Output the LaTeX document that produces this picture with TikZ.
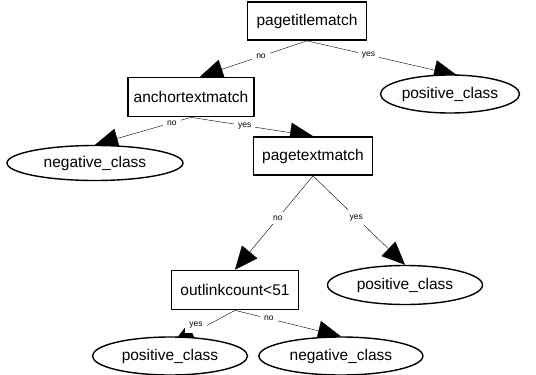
\documentclass[tikz,border=0pt]{standalone}
\usepackage{fontspec}
\setmainfont{Liberation Sans}
\usetikzlibrary{positioning,arrows.meta,backgrounds,shapes.geometric}

\begin{document}
\begin{tikzpicture}[
  x=1pt, y=-1pt,
  font=\fontsize{15.5}{18}\selectfont,
  test/.style={draw, line width=1.7pt, fill=white, inner sep=0pt,
               minimum height=38pt},
  leaf/.style={draw, ellipse, line width=1.4pt, fill=white, inner sep=0pt,
               minimum height=38pt},
  lbl/.style={fill=white, font=\fontsize{8.5}{10}\selectfont, inner sep=4pt},
  >={Triangle[length=23pt,width=20pt]}
]
\useasboundingbox (0,0) rectangle (536,375);

% tests
\node[test, minimum width=119pt] (ptm) at (307,21) {pagetitlematch};
\node[test, minimum width=126pt, minimum height=39pt] (atm) at (191,97) {anchortextmatch};
\node[test, minimum width=119pt] (ptxm) at (313,156) {pagetextmatch};
\node[test, minimum width=127pt, minimum height=39pt] (olc) at (235,290) {outlinkcount<51};

% leaves
\node[leaf, minimum width=139pt] (pos1) at (450,94) {positive\_class};
\node[leaf, minimum width=176pt, minimum height=35pt] (neg1) at (95,163) {negative\_class};
\node[leaf, minimum width=155pt, minimum height=39pt] (pos2) at (405,285) {positive\_class};
\node[leaf, minimum width=155pt] (pos3) at (170,356) {positive\_class};
\node[leaf, minimum width=164pt, right=10pt of pos3] (neg2) {negative\_class};

\begin{scope}[on background layer, line width=1.6pt]
\draw[->] (ptm.south) -- node[lbl, pos=.43] {no} ([xshift=9pt]atm.north);
\draw[->] (ptm.south) -- node[lbl, pos=.41] {yes} ([xshift=7pt,yshift=-1pt]pos1.north);
\draw[->] (atm.south) -- node[lbl, pos=.2] {no} (neg1.north);
\draw[->] (atm.south) -- node[lbl, pos=.44] {yes} (ptxm.north);
\draw[->] (ptxm.south) -- node[lbl, pos=.45] {no} (olc.north);
\draw[->] (ptxm.south) -- node[lbl, pos=.47] {yes} (pos2.north);
\draw[->] (olc.south) -- node[lbl, pos=.62, yshift=6pt] {yes} ([xshift=2pt,yshift=-8pt]pos3.north);
\draw[->] (olc.south) -- node[lbl, pos=.32] {no} (neg2.north);
\end{scope}
\end{tikzpicture}
\end{document}
